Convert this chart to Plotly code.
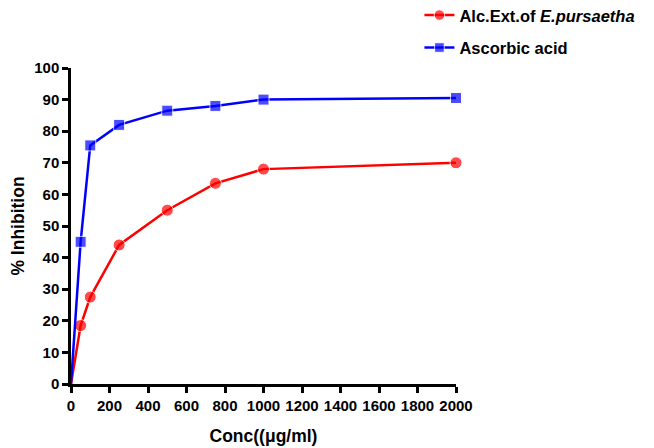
import plotly.graph_objects as go

conc = [0, 50, 100, 250, 500, 750, 1000, 2000]
alc_ext = [0, 18.5, 27.5, 44, 55, 63.5, 68, 70]
ascorbic = [0, 45, 75.5, 82, 86.5, 88, 90, 90.5]
x_ticks = [0, 200, 400, 600, 800, 1000, 1200, 1400, 1600, 1800, 2000]
y_ticks = [0, 10, 20, 30, 40, 50, 60, 70, 80, 90, 100]

FONT = "Liberation Sans, Arial, sans-serif"
sizes_c = [0] + [12] * (len(conc) - 1)
sizes_s = [0] + [11] * (len(conc) - 1)

fig = go.Figure()
fig.add_trace(go.Scatter(
    x=conc, y=alc_ext, mode="lines+markers",
    name="<b>Alc.Ext.of <i>E.pursaetha</i></b>",
    legendgroup="a",
    line=dict(color="#ff0000", width=2.5),
    marker=dict(symbol="circle", size=sizes_c, color="#ff0000"),
    cliponaxis=False,
))
fig.add_trace(go.Scatter(
    x=conc, y=ascorbic, mode="lines+markers",
    name="<b>Ascorbic acid</b>",
    legendgroup="b",
    line=dict(color="#0000ff", width=2.5),
    marker=dict(symbol="square", size=sizes_s, color="#0000ff"),
    cliponaxis=False,
))

axis_common = dict(
    showline=True, linecolor="black", linewidth=2.5,
    ticks="outside", tickcolor="black", ticklen=6, tickwidth=2.5,
    showgrid=False, zeroline=False, automargin=False, tickangle=0,
    tickfont=dict(family=FONT, size=15, color="black"),
)

fig.update_layout(
    width=654, height=448,
    margin=dict(l=63, r=206, t=60, b=72, autoexpand=False),
    paper_bgcolor="white", plot_bgcolor="white",
    font=dict(family=FONT, color="black"),
    xaxis=dict(range=[0, 2000], tickvals=x_ticks,
               ticktext=["<b>%d</b>" % v for v in x_ticks],
               title=dict(text="<b>Conc((μg/ml)</b>", font=dict(family=FONT, size=17.5), standoff=17),
               **axis_common),
    yaxis=dict(range=[0, 100], tickvals=y_ticks,
               ticktext=["<b>%d</b>" % v for v in y_ticks],
               title=dict(text="<b>% Inhibition</b>", font=dict(family=FONT, size=17.5), standoff=7),
               **axis_common),
    legend=dict(x=0.905, y=1.222, xanchor="left", yanchor="top",
                font=dict(family=FONT, size=16.5, color="black"),
                bgcolor="rgba(0,0,0,0)", tracegroupgap=8, itemwidth=30),
    showlegend=True,
)

fig.write_html("out.html")
